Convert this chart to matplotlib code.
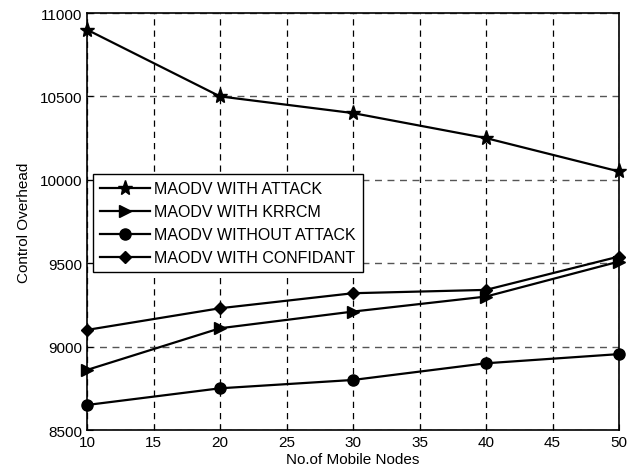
import matplotlib
matplotlib.use("Agg")
import matplotlib.pyplot as plt

plt.rcParams['font.family'] = ['Liberation Sans', 'DejaVu Sans']

nodes = [10, 20, 30, 40, 50]
with_attack = [10900, 10500, 10400, 10250, 10050]
with_krrcm = [8860, 9110, 9210, 9300, 9510]
without_attack = [8650, 8750, 8800, 8900, 8955]
with_confidant = [9100, 9230, 9320, 9340, 9540]
labels = ["MAODV WITH ATTACK", "MAODV WITH KRRCM", "MAODV WITHOUT ATTACK", "MAODV WITH CONFIDANT"]
xticks = [10, 15, 20, 25, 30, 35, 40, 45, 50]
yticks = [8500, 9000, 9500, 10000, 10500, 11000]

fig = plt.figure(figsize=(6.34, 4.77), dpi=100)
ax = fig.add_axes([87/634, 1-431/477, (619-87)/634, (431-14)/477])

kw = dict(color='black', lw=1.6, clip_on=False, zorder=3)
ax.plot(nodes, with_attack, marker='*', ms=11, label=labels[0], **kw)
ax.plot(nodes, with_krrcm, marker='>', ms=8, label=labels[1], **kw)
ax.plot(nodes, without_attack, marker='o', ms=8, label=labels[2], **kw)
ax.plot(nodes, with_confidant, marker='D', ms=6.5, label=labels[3], **kw)

ax.set_xlim(10, 50)
ax.set_ylim(8500, 11000)
ax.set_xticks(xticks)
ax.set_yticks(yticks)
ax.xaxis.grid(True, color='black', ls=(0, (5, 4)), lw=0.9)
ax.yaxis.grid(True, color='#555555', ls=(0, (5, 4)), lw=1.0)
ax.set_axisbelow(True)
ax.tick_params(labelsize=11, direction='in', length=4)
for s in ax.spines.values():
    s.set_linewidth(1.2)
    s.set_zorder(4)
ax.set_xlabel("No.of Mobile Nodes", fontsize=11, labelpad=2)
ax.set_ylabel("Control Overhead", fontsize=11, labelpad=6)

leg = ax.legend(loc='upper left', bbox_to_anchor=(6/532, (431-175)/417), fontsize=11.5,
                frameon=True, fancybox=False, edgecolor='black', framealpha=1,
                borderaxespad=0, handlelength=3.1, labelspacing=0.5, borderpad=0.45,
                handletextpad=0.3)
leg.get_frame().set_linewidth(1.0)
leg.set_zorder(5)

fig.savefig("out.png", dpi=100)
